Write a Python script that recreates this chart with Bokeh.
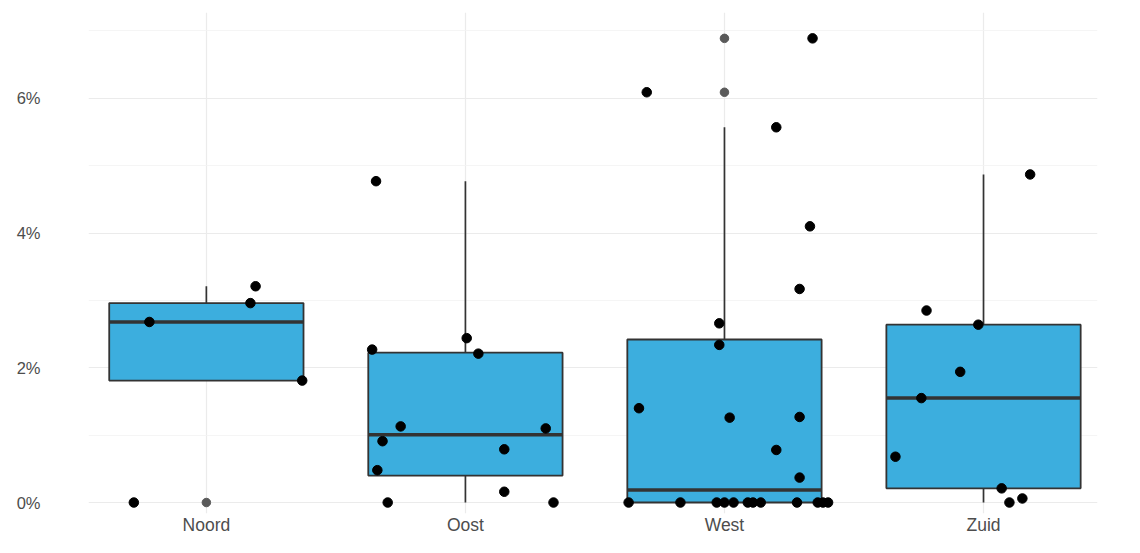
import numpy as np
from bokeh.plotting import figure
from bokeh.models import ColumnDataSource, FixedTicker
from bokeh.embed import file_html
from bokeh.resources import INLINE

# ---- data ----
regions = ["Noord", "Oost", "West", "Zuid"]

noord_values = [0.0, 2.68, 2.96, 3.21, 1.81]
noord_jitter = [-0.28, -0.22, 0.17, 0.19, 0.37]

oost_values = [4.77, 2.27, 0.91, 1.13, 0.48, 0.0, 2.44, 2.21, 0.79, 0.16, 1.10, 0.0]
oost_jitter = [-0.345, -0.36, -0.32, -0.25, -0.34, -0.30, 0.005, 0.05, 0.15, 0.15, 0.31, 0.34]

west_values = [6.09, 6.89, 5.57, 4.10, 3.17, 2.66, 2.34, 1.40, 1.26, 1.27, 0.78, 0.37,
               0.0, 0.0, 0.0, 0.0, 0.0, 0.0, 0.0, 0.0, 0.0, 0.0, 0.0, 0.0]
west_jitter = [-0.30, 0.34, 0.20, 0.33, 0.29, -0.02, -0.02, -0.33, 0.02, 0.29, 0.20, 0.29,
               -0.37, -0.17, -0.03, 0.00, 0.035, 0.09, 0.11, 0.14, 0.28, 0.36, 0.38, 0.40]

zuid_values = [4.87, 2.85, 2.64, 1.94, 1.55, 0.68, 0.21, 0.0, 0.06]
zuid_jitter = [0.18, -0.22, -0.02, -0.09, -0.24, -0.34, 0.07, 0.10, 0.15]

y_ticks = [0, 2, 4, 6]
y_tick_labels = ["0%", "2%", "4%", "6%"]

all_values = [noord_values, oost_values, west_values, zuid_values]
all_jitter = [noord_jitter, oost_jitter, west_jitter, zuid_jitter]

# ---- box statistics (ggplot style, type-7 quantiles) ----
stats = dict(x=[], q1=[], med=[], q3=[], lo=[], hi=[], left=[], right=[])
out_x, out_y = [], []
for i, vals in enumerate(all_values):
    v = np.array(vals, dtype=float)
    q1, med, q3 = np.percentile(v, [25, 50, 75])
    iqr = q3 - q1
    inside = v[(v >= q1 - 1.5 * iqr) & (v <= q3 + 1.5 * iqr)]
    xi = i + 1
    stats["x"].append(xi)
    stats["q1"].append(q1)
    stats["med"].append(med)
    stats["q3"].append(q3)
    stats["lo"].append(inside.min())
    stats["hi"].append(inside.max())
    stats["left"].append(xi - 0.375)
    stats["right"].append(xi + 0.375)
    for val in v[(v < q1 - 1.5 * iqr) | (v > q3 + 1.5 * iqr)]:
        out_x.append(xi)
        out_y.append(val)

box_src = ColumnDataSource(stats)

pts_x, pts_y = [], []
for i, (vals, jit) in enumerate(zip(all_values, all_jitter)):
    for val, j in zip(vals, jit):
        pts_x.append(i + 1 + j)
        pts_y.append(val)

# ---- figure ----
W, H = 1124, 537
p = figure(width=W, height=H, output_backend="svg", toolbar_location=None,
           x_range=(0.545, 4.44), y_range=(-0.163, 7.274),
           min_border_left=88, min_border_right=27, min_border_top=12, min_border_bottom=23)
p.outline_line_color = None
p.background_fill_color = "white"
p.border_fill_color = "white"

# grid
p.xgrid.ticker = FixedTicker(ticks=[1, 2, 3, 4])
p.xgrid.grid_line_color = "#EBEBEB"
p.xgrid.grid_line_width = 1.2
p.ygrid.ticker = FixedTicker(ticks=y_ticks, minor_ticks=[1, 3, 5, 7])
p.ygrid.grid_line_color = "#EBEBEB"
p.ygrid.grid_line_width = 1.2
p.ygrid.minor_grid_line_color = "#F3F3F3"
p.ygrid.minor_grid_line_width = 0.8

# axes
for ax in (p.xaxis[0], p.yaxis[0]):
    ax.axis_line_color = None
    ax.major_tick_line_color = None
    ax.minor_tick_line_color = None
    ax.major_tick_out = 0
    ax.major_tick_in = 0
    ax.minor_tick_out = 0
    ax.minor_tick_in = 0
    ax.major_label_text_font = "Liberation Sans"
    ax.major_label_text_color = "#4D4D4D"
p.xaxis.ticker = FixedTicker(ticks=[1, 2, 3, 4])
p.xaxis.major_label_overrides = {i + 1: r for i, r in enumerate(regions)}
p.xaxis.major_label_text_font_size = "17.5px"
p.xaxis.major_label_standoff = 1
p.yaxis.ticker = FixedTicker(ticks=y_ticks)
p.yaxis.major_label_overrides = {t: l for t, l in zip(y_ticks, y_tick_labels)}
p.yaxis.major_label_text_font_size = "16.5px"
p.yaxis.major_label_standoff = 48

# whiskers
p.segment(x0="x", y0="q3", x1="x", y1="hi", source=box_src, line_color="#333333", line_width=1.7)
p.segment(x0="x", y0="q1", x1="x", y1="lo", source=box_src, line_color="#333333", line_width=1.7)
# boxes
p.quad(left="left", right="right", bottom="q1", top="q3", source=box_src,
       fill_color="#3CAEDE", line_color="#333333", line_width=1.8)
# medians
p.segment(x0="left", y0="med", x1="right", y1="med", source=box_src,
          line_color="#333333", line_width=3.5)
# outliers
p.scatter(out_x, out_y, size=8.5, fill_color="#5A5A5A", line_color="#5A5A5A")
# jittered points
p.scatter(pts_x, pts_y, size=9.5, fill_color="black", line_color="black")

open("out.html", "w").write(file_html(p, INLINE))
